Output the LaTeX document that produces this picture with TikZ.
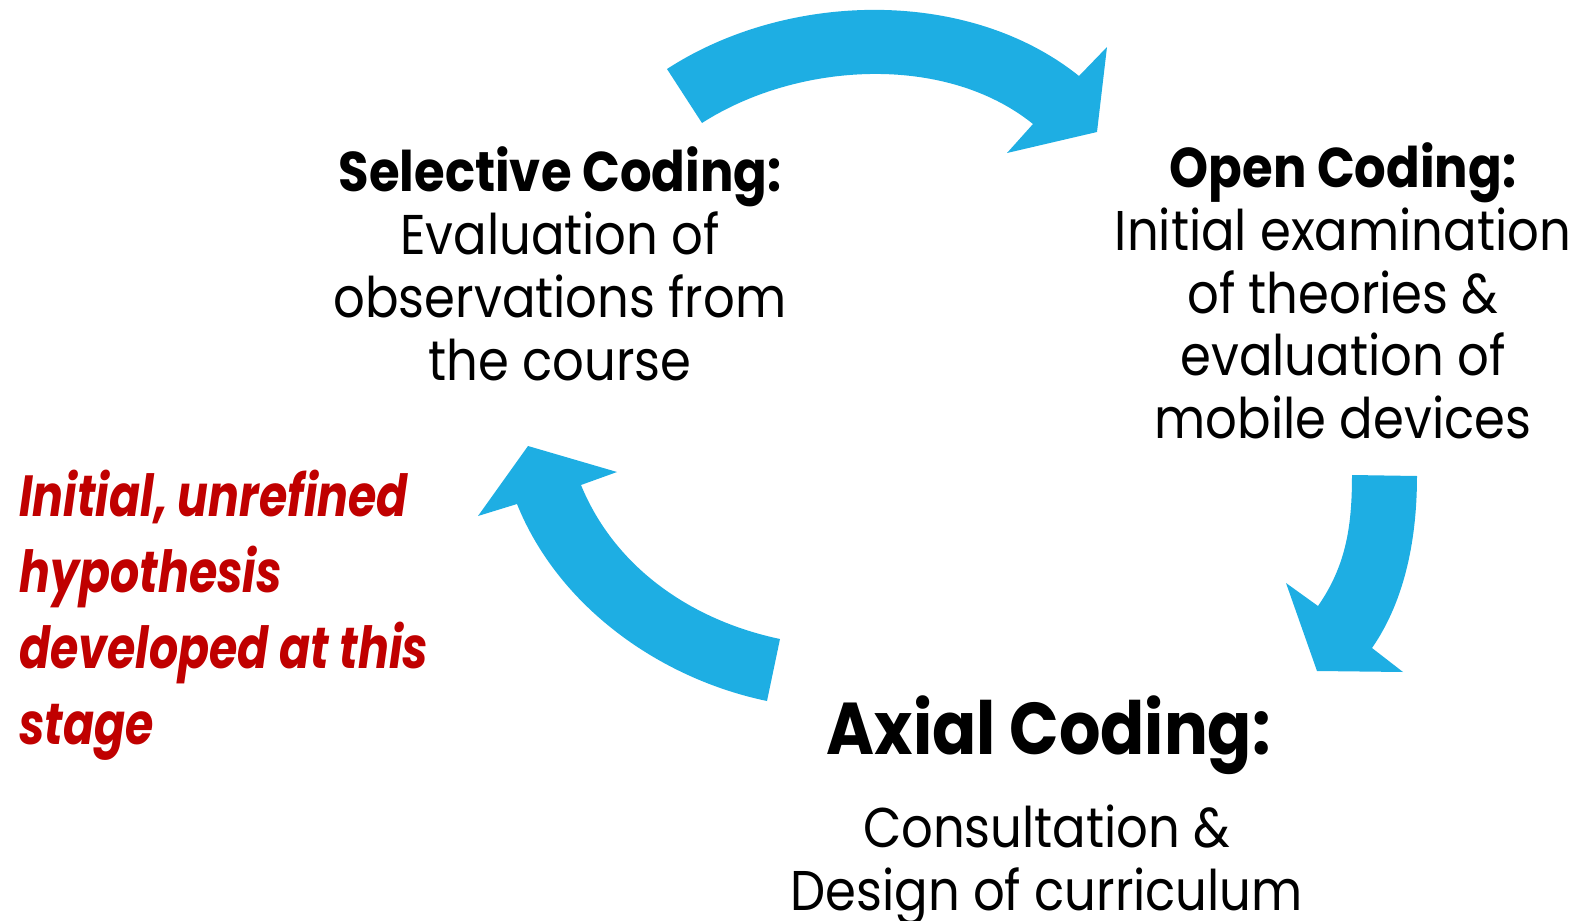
\documentclass[tikz,border=0pt]{standalone}
\usepackage{fontspec}
\setmainfont{Poppins}
\newfontfamily\stagefont{Poppins}[FakeStretch=0.887]
\newfontfamily\notefont{Poppins}[FakeStretch=0.79]
\definecolor{cyclearrow}{RGB}{30,174,227}
\definecolor{hypored}{RGB}{192,0,0}
\begin{document}
\begin{tikzpicture}[x=0.5pt,y=-0.5pt,
  bandarrow/.style={fill=cyclearrow,draw=none},
  stagetext/.style={inner sep=0pt,align=center,font=\stagefont\fontsize{28}{31.4}\selectfont},
  notetext/.style={inner sep=0pt,align=left,text=hypored,
    font=\notefont\fontsize{29}{37.9}\selectfont\bfseries\itshape}]
\useasboundingbox (0,0) rectangle (1581,921);
\clip (0,0) rectangle (1581,921);

% curved arrows of the cycle
\path[bandarrow] (667,69) .. controls (787,-9) and (968,-13) .. (1079,76)
  -- (1107,47) -- (1097,132) -- (1007,153) -- (1033,124)
  .. controls (945,53) and (797,62) .. (702,123) -- cycle;
\path[bandarrow] (1352,475) -- (1417,476)
  .. controls (1417,536) and (1406,599) .. (1372,648)
  -- (1403,672) -- (1317,671) -- (1286,583) -- (1318,606)
  .. controls (1346.5,565) and (1352,525) .. (1352,475) -- cycle;
\path[bandarrow] (780,639) .. controls (692,620.5) and (615,568) .. (581,485)
  -- (617,472) -- (528,446) -- (478,516) -- (517,504)
  .. controls (558,606) and (659,678.5) .. (767,701) -- cycle;

% stage descriptions (base anchor = baseline of the last line)
\node[stagetext,anchor=base] (selective) at (560,380.1)
  {\textbf{Selective Coding:}\\Evaluation of\\observations from\\the course};
\node[stagetext,anchor=base] (open) at (1343,438.6)
  {\textbf{Open Coding:}\\Initial examination\\of theories \&\\evaluation of\\mobile devices};
\node[inner sep=0pt,anchor=base,font=\stagefont\fontsize{36.7}{40}\selectfont\bfseries] (axial) at (1048.7,754.2) {Axial Coding:};
\node[stagetext,anchor=base] (axialtext) at (1046.7,910.5)
  {Consultation \&\\Design of curriculum};

% note beside the last stage
\node[notetext,anchor=base west] (note) at (19,744.1)
  {Initial, unrefined\\hypothesis\\developed at this\\stage};
\end{tikzpicture}
\end{document}
